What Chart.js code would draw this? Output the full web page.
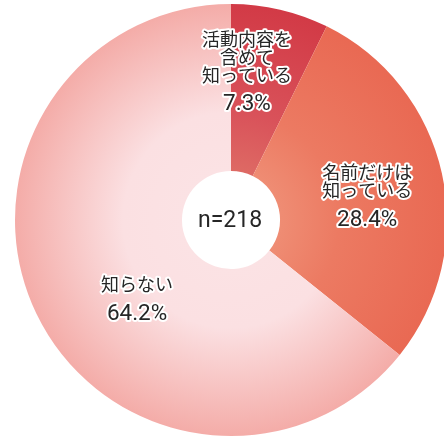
<!DOCTYPE html>
<html lang="ja">
<head>
<meta charset="utf-8">
<script src="https://cdn.jsdelivr.net/npm/chart.js@4.4.0/dist/chart.umd.min.js"></script>
<style>
  html, body { margin: 0; padding: 0; background: #fff; overflow: hidden; }
  #wrap { width: 462px; height: 438px; }
</style>
</head>
<body>
<div id="wrap"><canvas id="pie"></canvas></div>
<script>
// 認知度の割合 (n=218)
const categories = [['活動内容を', '含めて', '知っている'], ['名前だけは', '知っている'], ['知らない']];
const values = [7.3, 28.4, 64.2];
const percentLabels = ['7.3%', '28.4%', '64.2%'];
const sampleLabel = 'n=218';

// 色 (中心側 → 外側)
const innerColors = ['#de6a64', '#ef8d74', '#fbe2e4'];
const midColors = ['#d9525a', '#ec7a62', '#fbe0e2'];
const outerColors = ['#d23a46', '#e96953', '#f4aca8'];

// ラベル位置: 扇形の中心角からのずれ(度)と半径比
const labelShift = [-7, 2.6, -14.6];
const labelDist = [0.69, 0.64, 0.57];

const jpFont = '18px "Noto Sans CJK JP", sans-serif';
const numFont = '22.5px Roboto, sans-serif';

function sliceColor(c) {
  const chart = c.chart;
  const area = chart.chartArea;
  if (!area) return outerColors[c.dataIndex];
  const cx = (area.left + area.right) / 2;
  const cy = (area.top + area.bottom) / 2;
  const r = Math.min(area.right - area.left, area.bottom - area.top) / 2;
  const g = chart.ctx.createRadialGradient(cx, cy, 0, cx, cy, r);
  g.addColorStop(0.22, innerColors[c.dataIndex]);
  g.addColorStop(0.5, midColors[c.dataIndex]);
  g.addColorStop(1, outerColors[c.dataIndex]);
  return g;
}

function outlined(ctx, text, x, y) {
  ctx.strokeText(text, x, y);
  ctx.fillText(text, x, y);
}

const labelPlugin = {
  id: 'sliceLabels',
  afterDatasetsDraw(chart) {
    const ctx = chart.ctx;
    const arcs = chart.getDatasetMeta(0).data;
    ctx.save();
    ctx.textAlign = 'center';
    ctx.textBaseline = 'middle';
    ctx.lineJoin = 'round';
    ctx.strokeStyle = '#ffffff';
    ctx.lineWidth = 4;
    ctx.fillStyle = '#262626';
    arcs.forEach((arc, i) => {
      const mid = (arc.startAngle + arc.endAngle) / 2 + labelShift[i] * Math.PI / 180;
      const d = arc.outerRadius * labelDist[i];
      const ax = arc.x + Math.cos(mid) * d;
      const ay = arc.y + Math.sin(mid) * d;
      const lines = categories[i];
      const span = (lines.length - 1) * 18 + 30;
      let y = ay - span / 2;
      ctx.font = jpFont;
      lines.forEach((t, k) => outlined(ctx, t, ax, y + k * 18));
      ctx.font = numFont;
      outlined(ctx, percentLabels[i], ax, y + (lines.length - 1) * 18 + 30);
    });
    const a0 = arcs[0];
    ctx.fillStyle = '#262626';
    ctx.font = '23px Roboto, sans-serif';
    ctx.fillText(sampleLabel, a0.x - 1, a0.y + 1);
    ctx.restore();
  }
};

new Chart(document.getElementById('pie'), {
  type: 'doughnut',
  data: {
    labels: categories.map(l => l.join('')),
    datasets: [{
      data: values,
      backgroundColor: sliceColor,
      borderWidth: 0
    }]
  },
  options: {
    responsive: true,
    maintainAspectRatio: false,
    animation: false,
    cutout: '22.7%',
    layout: { padding: { left: 15, right: 15, top: 4, bottom: 2 } },
    plugins: {
      legend: { display: false },
      tooltip: { enabled: false }
    }
  },
  plugins: [labelPlugin]
});
</script>
</body>
</html>
